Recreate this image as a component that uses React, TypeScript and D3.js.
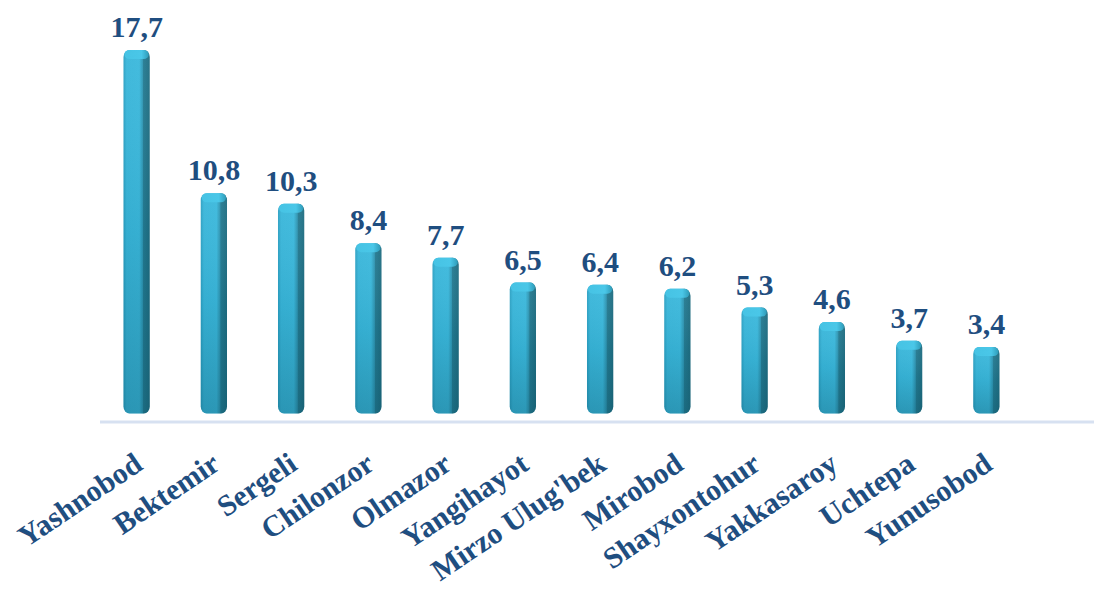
import { useMemo } from 'react'
import * as d3 from 'd3'

const DISTRICTS = [
  'Yashnobod',
  'Bektemir',
  'Sergeli',
  'Chilonzor',
  'Olmazor',
  'Yangihayot',
  "Mirzo Ulug'bek",
  'Mirobod',
  'Shayxontohur',
  'Yakkasaroy',
  'Uchtepa',
  'Yunusobod',
]

const VALUES = [17.7, 10.8, 10.3, 8.4, 7.7, 6.5, 6.4, 6.2, 5.3, 4.6, 3.7, 3.4]

const TEXT_COLOR = '#1f4e80'

export default function App() {
  const width = 1094
  const height = 590
  const baseY = 417.6
  const labelFont = "'Liberation Serif', 'Times New Roman', Times, serif"

  const data = useMemo(
    () => DISTRICTS.map((name, i) => ({ name, value: VALUES[i] ?? 0 })),
    [],
  )

  const x = d3
    .scaleBand<string>()
    .domain(DISTRICTS)
    .range([98, 1025])
    .paddingInner(0.66)
    .paddingOuter(0.33)

  const y = d3.scaleLinear().domain([0, 17.7]).range([baseY, 50])

  const bw = x.bandwidth()
  const fmt = (v: number) => v.toFixed(1).replace('.', ',')

  return (
    <svg
      width={width}
      height={height}
      viewBox={`0 0 ${width} ${height}`}
      style={{ position: 'absolute', left: 0, top: 0, background: '#fff' }}
    >
      <defs>
        <linearGradient id="barH" x1="0" x2="1" y1="0" y2="0">
          <stop offset="0" stopColor="#2a9fc2" />
          <stop offset="0.12" stopColor="#38b6da" />
          <stop offset="0.6" stopColor="#3ab8dc" />
          <stop offset="0.74" stopColor="#2d93b0" />
          <stop offset="0.76" stopColor="#237a91" />
          <stop offset="1" stopColor="#1e6c80" />
        </linearGradient>
        <linearGradient id="barV" x1="0" x2="0" y1="0" y2="1">
          <stop offset="0" stopColor="#ffffff" stopOpacity="0.05" />
          <stop offset="0.5" stopColor="#0a4a5c" stopOpacity="0.08" />
          <stop offset="1" stopColor="#0a4a5c" stopOpacity="0.3" />
        </linearGradient>
        <linearGradient id="cap" x1="0" x2="1" y1="0" y2="0">
          <stop offset="0" stopColor="#46c3e4" />
          <stop offset="0.7" stopColor="#4ac7e8" />
          <stop offset="1" stopColor="#2f9bb8" />
        </linearGradient>
      </defs>

      <line
        x1={100}
        x2={width}
        y1={422}
        y2={422}
        stroke="#d7e1f1"
        strokeWidth={3}
      />

      {data.map(d => {
        const bx = x(d.name) ?? 0
        const top = y(d.value)
        const bottom = baseY - 4
        const h = bottom - top
        return (
          <g key={d.name}>
            <rect
              x={bx}
              y={top}
              width={bw}
              height={h}
              rx={6}
              ry={7}
              fill="url(#barH)"
            />
            <rect
              x={bx}
              y={top}
              width={bw}
              height={h}
              rx={6}
              ry={7}
              fill="url(#barV)"
            />
            <rect
              x={bx + 1}
              y={top}
              width={bw - 2}
              height={9}
              rx={5}
              ry={5}
              fill="url(#cap)"
            />
            <text
              x={bx + bw / 2}
              y={top - 13}
              textAnchor="middle"
              fill={TEXT_COLOR}
              style={{ fontFamily: labelFont, fontWeight: 700, fontSize: 30 }}
            >
              {fmt(d.value)}
            </text>
          </g>
        )
      })}

      {data.map(d => {
        const cx = (x(d.name) ?? 0) + bw / 2
        return (
          <text
            key={`lbl-${d.name}`}
            transform={`translate(${cx - 4},${451}) rotate(-34)`}
            textAnchor="end"
            dy="0.7em"
            fill={TEXT_COLOR}
            style={{ fontFamily: labelFont, fontWeight: 700, fontSize: 30 }}
          >
            {d.name}
          </text>
        )
      })}
    </svg>
  )
}
